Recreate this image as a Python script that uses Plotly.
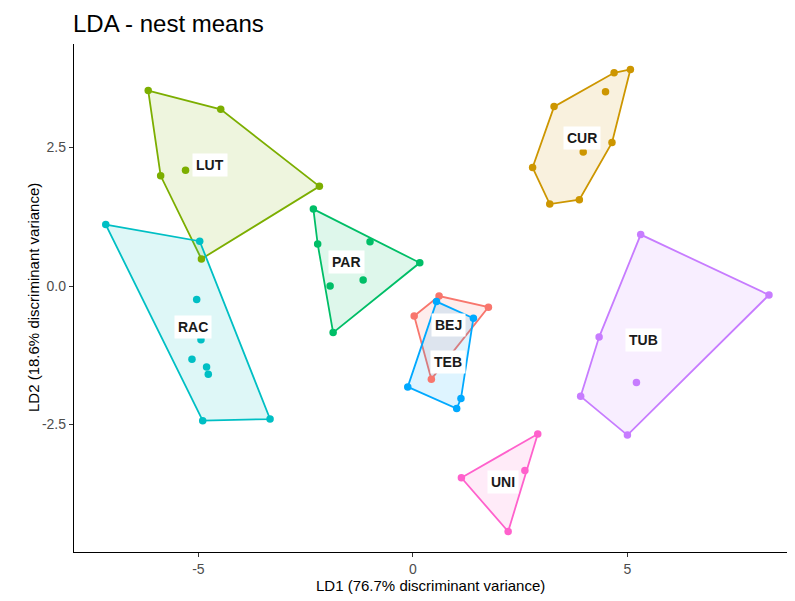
import plotly.graph_objects as go

# ---- data (LD1, LD2 nest means per site) ----
groups = ["BEJ", "CUR", "LUT", "PAR", "RAC", "TEB", "TUB", "UNI"]
colors = ["#F8766D", "#CD9600", "#7CAE00", "#00BE67", "#00BFC4", "#00A9FF", "#C77CFF", "#FF61CC"]

BEJ_x = [0.61, 1.76, 0.03, 0.43]
BEJ_y = [-0.18, -0.38, -0.54, -1.68]
CUR_x = [5.07, 4.69, 3.29, 2.79, 3.19, 3.88, 4.64, 4.49, 3.97]
CUR_y = [3.91, 3.85, 3.24, 2.14, 1.48, 1.56, 2.59, 3.51, 2.42]
LUT_x = [-6.17, -4.48, -2.18, -4.93, -5.88, -5.30]
LUT_y = [3.53, 3.19, 1.80, 0.49, 1.99, 2.09]
PAR_x = [-2.32, -2.22, -1.00, 0.16, -1.86, -1.93, -1.16]
PAR_y = [1.39, 0.76, 0.80, 0.42, -0.84, 0.00, 0.11]
RAC_x = [-7.16, -4.97, -3.33, -4.90, -5.04, -4.94, -5.15, -4.81, -4.77]
RAC_y = [1.11, 0.81, -2.40, -2.43, -0.24, -0.97, -1.32, -1.46, -1.59]
TEB_x = [0.55, 1.41, 1.12, 1.02, -0.12]
TEB_y = [-0.28, -0.58, -2.03, -2.21, -1.82]
TUB_x = [5.31, 8.30, 5.00, 3.91, 4.34, 5.21]
TUB_y = [0.93, -0.16, -2.69, -1.99, -0.92, -1.74]
UNI_x = [2.91, 2.22, 1.13, 2.61]
UNI_y = [-2.67, -4.43, -3.46, -3.33]

label_x = [0.82, 3.93, -4.73, -1.55, -5.13, 0.82, 5.37, 2.10]
label_y = [-0.70, 2.67, 2.18, 0.43, -0.74, -1.37, -0.97, -3.53]

xs = [BEJ_x, CUR_x, LUT_x, PAR_x, RAC_x, TEB_x, TUB_x, UNI_x]
ys = [BEJ_y, CUR_y, LUT_y, PAR_y, RAC_y, TEB_y, TUB_y, UNI_y]


def hull(px, py):
    pts = sorted(set(zip(px, py)))
    if len(pts) < 3:
        return pts

    def cross(o, a, b):
        return (a[0] - o[0]) * (b[1] - o[1]) - (a[1] - o[1]) * (b[0] - o[0])

    lower, upper = [], []
    for p in pts:
        while len(lower) >= 2 and cross(lower[-2], lower[-1], p) <= 0:
            lower.pop()
        lower.append(p)
    for p in reversed(pts):
        while len(upper) >= 2 and cross(upper[-2], upper[-1], p) <= 0:
            upper.pop()
        upper.append(p)
    return lower[:-1] + upper[:-1]


def rgba(hexc, a):
    h = hexc.lstrip("#")
    return f"rgba({int(h[0:2],16)},{int(h[2:4],16)},{int(h[4:6],16)},{a})"


FONT = "Liberation Sans, Arial, Helvetica"

fig = go.Figure()
for g, c, gx, gy in zip(groups, colors, xs, ys):
    h = hull(gx, gy)
    hx = [p[0] for p in h] + [h[0][0]]
    hy = [p[1] for p in h] + [h[0][1]]
    fig.add_trace(go.Scatter(x=hx, y=hy, mode="lines", fill="toself",
                             fillcolor=rgba(c, 0.13), line=dict(color=c, width=1.8),
                             hoverinfo="skip", showlegend=False))
for g, c, gx, gy in zip(groups, colors, xs, ys):
    fig.add_trace(go.Scatter(x=gx, y=gy, mode="markers", name=g,
                             marker=dict(color=c, size=7.5), showlegend=False))

for g, lx, ly in zip(groups, label_x, label_y):
    fig.add_annotation(x=lx, y=ly, text=f"<b>{g}</b>", showarrow=False,
                       font=dict(family=FONT, size=14, color="#1a1a1a"),
                       bgcolor="white", borderpad=3, opacity=1)

# axis titles
fig.add_annotation(x=0.5, y=0, xref="paper", yref="paper", yanchor="middle",
                   yshift=-33, showarrow=False,
                   text="LD1 (76.7% discriminant variance)",
                   font=dict(family=FONT, size=15, color="black"))
fig.add_annotation(x=0, y=0.5, xref="paper", yref="paper", xanchor="center",
                   xshift=-41, showarrow=False, textangle=-90,
                   text="LD2 (18.6% discriminant variance)",
                   font=dict(family=FONT, size=15, color="black"))

axis_common = dict(showgrid=False, zeroline=False, showline=True, linecolor="black",
                   linewidth=1.3, ticks="outside", ticklen=4, tickcolor="#333333",
                   tickfont=dict(family=FONT, size=14, color="#4D4D4D"),
                   automargin=False, mirror=False)

fig.update_layout(
    width=795, height=601,
    paper_bgcolor="white", plot_bgcolor="white",
    margin=dict(l=66, r=16, t=36, b=57),
    title=dict(text="LDA - nest means", x=65 / 795, xanchor="left", xref="container",
               y=1 - 16 / 601, yanchor="middle", yref="container",
               font=dict(family=FONT, size=24, color="black")),
    xaxis=dict(range=[-7.90, 8.72], tickvals=[-5, 0, 5], ticktext=["-5", "0", "5"],
               **axis_common),
    yaxis=dict(range=[-4.80, 4.37], tickvals=[-2.5, 0, 2.5], ticktext=["-2.5", "0.0", "2.5"],
               **axis_common),
    showlegend=False,
)

fig.write_html("out.html")
